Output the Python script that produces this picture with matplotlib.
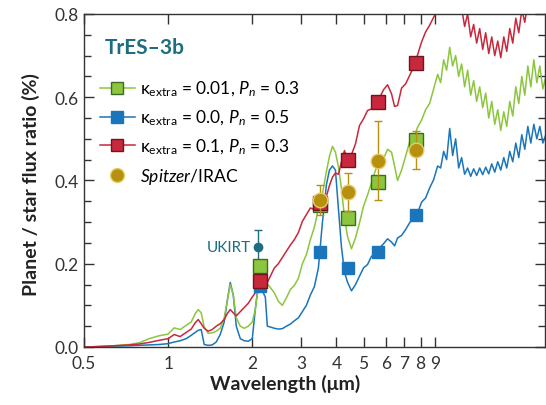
import matplotlib.pyplot as plt
from matplotlib.lines import Line2D
from matplotlib.ticker import FixedLocator, NullLocator, MultipleLocator, FormatStrFormatter

plt.rcParams["font.family"] = ["Lato", "DejaVu Sans"]
plt.rcParams["mathtext.fontset"] = "custom"
plt.rcParams["mathtext.rm"] = "Lato"
plt.rcParams["mathtext.it"] = "Lato:italic"
plt.rcParams["mathtext.bf"] = "Lato:bold"

# model spectra (planet/star flux ratio in %)
WAVELENGTH = [
    0.5, 0.566, 0.64, 0.725, 0.787, 0.855, 0.928, 1.0, 1.051, 1.104,
    1.16, 1.209, 1.25, 1.281, 1.313, 1.346, 1.391, 1.438, 1.486, 1.536,
    1.587, 1.627, 1.668, 1.71, 1.753, 1.812, 1.873, 1.935, 2.0, 2.05,
    2.084, 2.154, 2.227, 2.264, 2.321, 2.399, 2.479, 2.562, 2.648, 2.737,
    2.829, 2.924, 3.022, 3.123, 3.228, 3.336, 3.448, 3.565, 3.684, 3.777,
    3.872, 3.968, 4.069, 4.17, 4.274, 4.381, 4.528, 4.68, 4.837, 5.0,
    5.168, 5.341, 5.52, 5.705, 5.897, 6.095, 6.3, 6.457, 6.619, 6.841,
    7.071, 7.308, 7.553, 7.807, 8.069, 8.34, 8.62, 8.91, 9.209, 9.439,
    9.676, 9.917, 10.17, 10.42, 10.68, 10.95, 11.22, 11.5, 11.79, 12.09,
    12.39, 12.7, 13.02, 13.35, 13.68, 14.03, 14.38, 14.74, 15.11, 15.49,
    15.88, 16.27, 16.68, 17.1, 17.53, 17.97, 18.42, 18.88, 19.36, 19.84,
    20.34, 20.85, 21.37, 21.91, 22.46,
]

FLUX_GREEN = [
    0.0, 0.001, 0.003, 0.006, 0.010, 0.020, 0.027, 0.031, 0.046, 0.042,
    0.052, 0.060, 0.080, 0.090, 0.082, 0.048, 0.033, 0.034, 0.038, 0.045,
    0.070, 0.110, 0.150, 0.125, 0.070, 0.050, 0.045, 0.050, 0.060, 0.090,
    0.125, 0.160, 0.150, 0.152, 0.143, 0.130, 0.110, 0.100, 0.118, 0.138,
    0.148, 0.165, 0.200, 0.222, 0.258, 0.288, 0.332, 0.368, 0.422, 0.458,
    0.482, 0.468, 0.432, 0.380, 0.312, 0.266, 0.236, 0.262, 0.298, 0.338,
    0.365, 0.395, 0.425, 0.445, 0.452, 0.475, 0.468, 0.435, 0.400, 0.425,
    0.458, 0.492, 0.500, 0.528, 0.545, 0.570, 0.585, 0.620, 0.655, 0.635,
    0.690, 0.665, 0.720, 0.675, 0.700, 0.650, 0.680, 0.625, 0.665, 0.605,
    0.640, 0.590, 0.625, 0.575, 0.610, 0.550, 0.590, 0.535, 0.570, 0.520,
    0.565, 0.530, 0.590, 0.555, 0.625, 0.585, 0.650, 0.605, 0.675, 0.625,
    0.690, 0.635, 0.675, 0.620, 0.650,
]

FLUX_BLUE = [
    0.0, 0.001, 0.002, 0.003, 0.004, 0.005, 0.006, 0.008, 0.012, 0.015,
    0.020, 0.028, 0.035, 0.040, 0.042, 0.006, 0.004, 0.005, 0.012, 0.030,
    0.060, 0.110, 0.155, 0.125, 0.050, 0.020, 0.015, 0.014, 0.020, 0.090,
    0.130, 0.140, 0.120, 0.050, 0.048, 0.045, 0.043, 0.044, 0.050, 0.055,
    0.063, 0.070, 0.085, 0.100, 0.125, 0.145, 0.190, 0.300, 0.390, 0.425,
    0.435, 0.425, 0.330, 0.240, 0.180, 0.156, 0.135, 0.150, 0.170, 0.190,
    0.198, 0.218, 0.222, 0.238, 0.248, 0.260, 0.252, 0.243, 0.262, 0.268,
    0.282, 0.298, 0.312, 0.322, 0.348, 0.358, 0.382, 0.402, 0.435, 0.430,
    0.470, 0.450, 0.525, 0.460, 0.500, 0.430, 0.455, 0.415, 0.430, 0.410,
    0.428, 0.412, 0.430, 0.414, 0.432, 0.416, 0.440, 0.420, 0.445, 0.425,
    0.455, 0.430, 0.470, 0.445, 0.490, 0.455, 0.510, 0.475, 0.530, 0.490,
    0.535, 0.500, 0.530, 0.490, 0.510,
]

FLUX_RED = [
    0.0, 0.001, 0.003, 0.005, 0.007, 0.011, 0.016, 0.020, 0.030, 0.025,
    0.035, 0.043, 0.058, 0.066, 0.056, 0.045, 0.038, 0.042, 0.050, 0.056,
    0.066, 0.080, 0.090, 0.082, 0.075, 0.085, 0.095, 0.105, 0.120, 0.130,
    0.135, 0.140, 0.150, 0.155, 0.170, 0.190, 0.200, 0.215, 0.230, 0.245,
    0.258, 0.275, 0.302, 0.318, 0.334, 0.330, 0.336, 0.342, 0.362, 0.388,
    0.408, 0.418, 0.415, 0.445, 0.472, 0.452, 0.462, 0.488, 0.532, 0.548,
    0.568, 0.572, 0.592, 0.598, 0.618, 0.630, 0.608, 0.578, 0.580, 0.622,
    0.632, 0.652, 0.672, 0.702, 0.733, 0.757, 0.773, 0.792, 0.810, 0.800,
    0.840, 0.820, 0.845, 0.820, 0.840, 0.800, 0.815, 0.770, 0.800, 0.745,
    0.775, 0.730, 0.765, 0.715, 0.755, 0.705, 0.745, 0.700, 0.735, 0.695,
    0.745, 0.710, 0.765, 0.730, 0.790, 0.755, 0.810, 0.780, 0.830, 0.800,
    0.835, 0.810, 0.830, 0.815, 0.830,
]

# band-integrated model points (K band + IRAC channels)
BAND_WL = [2.14, 3.5, 4.4, 5.65, 7.7]
BAND_GREEN = [0.195, 0.340, 0.309, 0.397, 0.498]
BAND_BLUE = [0.147, 0.229, 0.189, 0.229, 0.317]
BAND_RED = [0.159, 0.345, 0.450, 0.588, 0.683]

# observations
SPITZER_WL = [3.5, 4.4, 5.65, 7.7]
SPITZER_FLUX = [0.354, 0.372, 0.448, 0.474]
SPITZER_ERR = [0.036, 0.045, 0.095, 0.046]

UKIRT_WL = [2.1]
UKIRT_FLUX = [0.24]
UKIRT_ERR = [0.04]

XTICKS = [0.5, 1, 2, 3, 4, 5, 6, 7, 8, 9]
XTICK_LABELS = ["0.5", "1", "2", "3", "4", "5", "6", "7", "8", "9"]

LEGEND_LABELS = [
    r"κ$_{\mathrm{extra}}$ = 0.01, $P_n$ = 0.3",
    r"κ$_{\mathrm{extra}}$ = 0.0, $P_n$ = 0.5",
    r"κ$_{\mathrm{extra}}$ = 0.1, $P_n$ = 0.3",
    r"$\it{Spitzer}$/IRAC",
]

# Farben
GREEN_LINE = "#8cc63e"
GREEN_EDGE = "#3d6b22"
BLUE = "#1b75bb"
RED = "#c8283c"
RED_EDGE = "#6e1423"
GOLD = "#b8900f"
TEAL = "#1d6e80"
AXIS_COLOR = "#333333"

fig = plt.figure(figsize=(5.46, 4.06), dpi=100)
ax = fig.add_axes([84 / 546, 1 - 348 / 406, 461 / 546, 333 / 406])

ax.set_xscale("log")
ax.set_xlim(0.5, 22.3)
ax.set_ylim(0, 0.8)

# spectra
ax.plot(WAVELENGTH, FLUX_BLUE, color=BLUE, lw=1.1, zorder=2)
ax.plot(WAVELENGTH, FLUX_GREEN, color=GREEN_LINE, lw=1.1, zorder=2)
ax.plot(WAVELENGTH, FLUX_RED, color=RED, lw=1.1, zorder=2)

# UKIRT point (partly hidden behind the band squares)
ax.errorbar(UKIRT_WL, UKIRT_FLUX, yerr=UKIRT_ERR, fmt="o", ms=6, color=TEAL,
            ecolor=TEAL, elinewidth=1, capsize=3, zorder=2.5)
ax.annotate("UKIRT", xy=(UKIRT_WL[0], UKIRT_FLUX[0]), xytext=(-5, 0),
            textcoords="offset points", ha="right", va="center",
            color=TEAL, fontsize=11)

# band squares
ax.plot(BAND_WL, BAND_BLUE, ls="none", marker="s", ms=8.5, mfc=BLUE, mec=BLUE, zorder=3)
ax.plot(BAND_WL, BAND_GREEN, ls="none", marker="s", ms=10, mfc=GREEN_LINE,
        mec=GREEN_EDGE, mew=1, zorder=3)
ax.plot(BAND_WL, BAND_RED, ls="none", marker="s", ms=10, mfc=RED, mec=RED_EDGE,
        mew=1, zorder=3)

# Spitzer data
ax.errorbar(SPITZER_WL, SPITZER_FLUX, yerr=SPITZER_ERR, fmt="o", ms=10.5,
            mfc=GOLD, mec="#e3cc6a", mew=1, ecolor=GOLD, elinewidth=1,
            capsize=3, capthick=1, zorder=4)

# Achsen
ax.xaxis.set_major_locator(FixedLocator(XTICKS))
ax.xaxis.set_minor_locator(NullLocator())
ax.set_xticklabels(XTICK_LABELS)
ax.yaxis.set_major_locator(MultipleLocator(0.2))
ax.yaxis.set_minor_locator(MultipleLocator(0.05))
ax.yaxis.set_major_formatter(FormatStrFormatter("%.1f"))

ax.tick_params(axis="x", which="major", direction="in", top=True, length=7,
               width=1, pad=6, labelsize=12.5, color=AXIS_COLOR, labelcolor=AXIS_COLOR)
ax.tick_params(axis="y", which="major", direction="in", right=True, length=7,
               width=1, pad=4, labelsize=12.5, color=AXIS_COLOR, labelcolor=AXIS_COLOR)
ax.tick_params(axis="y", which="minor", direction="in", right=True, length=5,
               width=1, color=AXIS_COLOR)
for spine in ax.spines.values():
    spine.set_color(AXIS_COLOR)
    spine.set_linewidth(1)

ax.set_xlabel("Wavelength (μm)", fontsize=14, fontweight="bold", color="#222222")
ax.xaxis.set_label_coords((285 - 84) / 461, -0.082)
ax.set_ylabel("Planet / star flux ratio (%)", fontsize=14, fontweight="bold",
              color="#222222")
ax.yaxis.set_label_coords(-0.095, 0.49)

# Legende
ax.text(0.046, 0.90, "TrES–3b", transform=ax.transAxes, fontsize=15,
        fontweight="bold", color=TEAL, ha="left", va="center")

handles = [
    Line2D([], [], color=GREEN_LINE, lw=1.1, marker="s", ms=9, mfc=GREEN_LINE,
           mec=GREEN_EDGE, mew=1),
    Line2D([], [], color=BLUE, lw=1.1, marker="s", ms=8, mfc=BLUE, mec=BLUE),
    Line2D([], [], color=RED, lw=1.1, marker="s", ms=9, mfc=RED, mec=RED_EDGE,
           mew=1),
    Line2D([], [], ls="none", marker="o", ms=10, mfc=GOLD, mec="#e3cc6a", mew=1),
]
ax.legend(handles, LEGEND_LABELS, loc="upper left", bbox_to_anchor=(0.035, 0.805),
          frameon=False, fontsize=12.5, handlelength=2.0, handletextpad=0.3,
          labelspacing=0.55, borderpad=0, borderaxespad=0)

fig.savefig("out.png", dpi=100)
plt.close(fig)
